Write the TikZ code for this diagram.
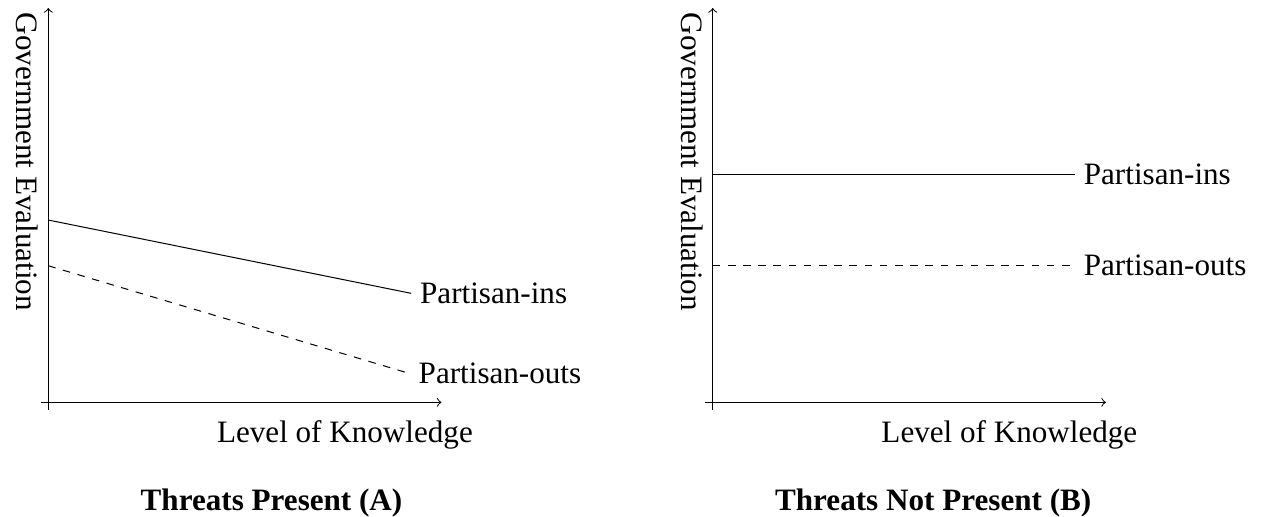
\documentclass[tikz,border=0pt]{standalone}
\usepackage{fontspec}
\setmainfont{Liberation Serif}
\usetikzlibrary{positioning}

\begin{document}
\begin{tikzpicture}[
  every node/.style={font=\fontsize{12.3}{14}\selectfont},
  eje/.style={->},
  serie/.style={right},
  ylab/.style={rotate=-90, anchor=base},
  xlab/.style={anchor=base},
  titulo/.style={anchor=base, font=\fontsize{12.3}{14}\selectfont\bfseries}
]
  \useasboundingbox (-0.671,-1.579) rectangle (16.926,5.588);
  % panel A
  \coordinate (oA) at (0,0);
  \coordinate (xA0) at (-0.107,0);
  \coordinate (xA1) at (5.46,0);
  \coordinate (yA0) at (0,-0.107);
  \coordinate (yA1) at (0,5.476);
  \coordinate (inA0) at (0,2.532);
  \coordinate (inA1) at (5.04,1.514);
  \coordinate (outA0) at (0,1.897);
  \coordinate (outA1) at (5.02,0.40);
  \draw[eje] (xA0) -- (xA1);
  \draw[eje] (yA0) -- (yA1);
  \draw (inA0) -- (inA1);
  \draw[dashed] (outA0) -- (outA1);
  \node[serie] (insA) at (inA1) {Partisan-ins};
  \node[serie] (outsA) at (outA1) {Partisan-outs};
  \node[xlab] (knowA) at (4.12,-0.561) {Level of Knowledge};
  \node[ylab] (evalA) at (-0.44,3.34) {Government Evaluation};
  \node[titulo] (titA) at (3.1,-1.496) {Threats Present (A)};
  % panel B
  \coordinate (oB) at (9.228,0);
  \coordinate (xB0) at (9.121,0);
  \coordinate (xB1) at (14.688,0);
  \coordinate (yB0) at (9.228,-0.107);
  \coordinate (yB1) at (9.228,5.476);
  \coordinate (inB0) at (9.228,3.167);
  \coordinate (inB1) at (14.258,3.167);
  \coordinate (outB0) at (9.228,1.903);
  \coordinate (outB1) at (14.258,1.903);
  \draw[eje] (xB0) -- (xB1);
  \draw[eje] (yB0) -- (yB1);
  \draw (inB0) -- (inB1);
  \draw[dashed] (outB0) -- (outB1);
  \node[serie] (insB) at (inB1) {Partisan-ins};
  \node[serie] (outsB) at (outB1) {Partisan-outs};
  \node[xlab] (knowB) at (13.348,-0.561) {Level of Knowledge};
  \node[ylab] (evalB) at (8.788,3.34) {Government Evaluation};
  \node[titulo] (titB) at (12.29,-1.496) {Threats Not Present (B)};
\end{tikzpicture}
\end{document}
